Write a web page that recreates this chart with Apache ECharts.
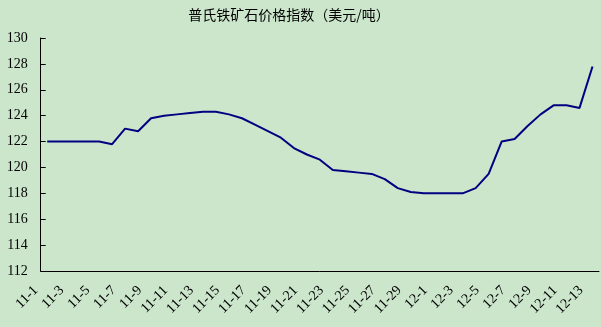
<!DOCTYPE html>
<html>
<head>
<meta charset="utf-8">
<script src="https://cdn.jsdelivr.net/npm/echarts@6/dist/echarts.min.js"></script>
<style>
html,body{margin:0;padding:0;background:#cce6cc;}
#chart{width:601px;height:327px;}
</style>
</head>
<body>
<div id="chart"></div>
<script>
const titleText = '普氏铁矿石价格指数（美元/吨）';
const categories = [
  '11-1','11-2','11-3','11-4','11-5','11-6','11-7','11-8','11-9','11-10',
  '11-11','11-12','11-13','11-14','11-15','11-16','11-17','11-18','11-19','11-20',
  '11-21','11-22','11-23','11-24','11-25','11-26','11-27','11-28','11-29','11-30',
  '12-1','12-2','12-3','12-4','12-5','12-6','12-7','12-8','12-9','12-10',
  '12-11','12-12','12-13'
];
const priceIndex = [
  122.0,122.0,122.0,122.0,122.0,121.8,123.0,122.8,123.8,124.0,
  124.1,124.2,124.3,124.3,124.1,123.8,123.3,122.8,122.3,121.5,
  121.0,120.6,119.8,119.7,119.6,119.5,119.1,118.4,118.1,118.0,
  118.0,118.0,118.0,118.4,119.5,122.0,122.2,123.2,124.1,124.8,
  124.8,124.6,127.8
];
const yMin = 112, yMax = 130, yStep = 2;

const chart = echarts.init(document.getElementById('chart'), null, {renderer:'canvas'});
chart.setOption({
  backgroundColor: '#cce6cc',
  animation: false,
  title: {
    text: titleText,
    left: 284, top: 3, textAlign: 'center',
    textStyle: {fontFamily: 'Noto Sans CJK SC', fontSize: 14, fontWeight: 'normal', color: '#000'}
  },
  grid: {left: 40.7, right: 2, top: 38, bottom: 56, containLabel: false},
  xAxis: {
    type: 'category',
    data: categories,
    boundaryGap: true,
    axisLine: {lineStyle: {color: '#000', width: 1}},
    axisTick: {inside: true, length: 5, interval: 1, lineStyle: {color: '#000'}},
    axisLabel: {
      interval: 1, rotate: 45, margin: 6, padding: [0, 16, 0, 0],
      fontFamily: 'Liberation Serif', fontSize: 14, color: '#000'
    },
    splitLine: {show: false}
  },
  yAxis: {
    type: 'value', min: yMin, max: yMax, interval: yStep,
    axisLine: {show: true, lineStyle: {color: '#000', width: 1}},
    axisTick: {show: true, inside: true, length: 5, lineStyle: {color: '#000'}},
    axisLabel: {margin: 13, fontFamily: 'Liberation Serif', fontSize: 14, color: '#000'},
    splitLine: {show: false}
  },
  series: [{
    type: 'line',
    data: priceIndex,
    symbol: 'none',
    lineStyle: {color: '#000080', width: 2},
    itemStyle: {color: '#000080'}
  }]
});
</script>
</body>
</html>
